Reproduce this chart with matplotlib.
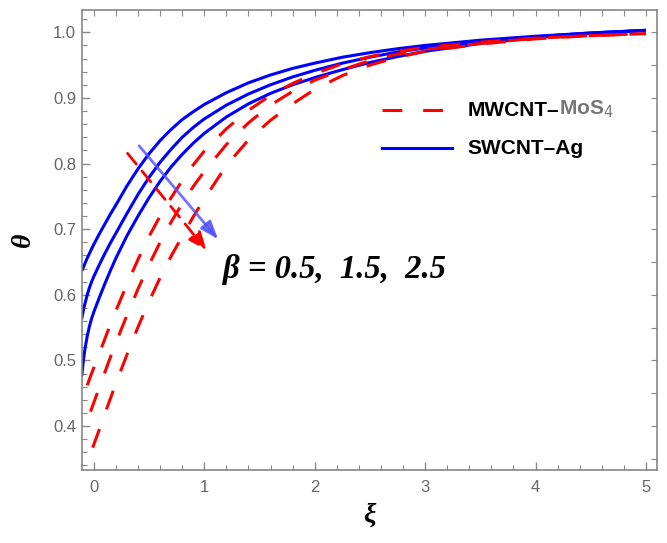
import matplotlib
matplotlib.use("Agg")
import matplotlib.pyplot as plt
from matplotlib.ticker import MultipleLocator

# Temperature profiles theta(xi) for beta = 0.5, 1.5, 2.5
xi_ag = [-0.11, -0.10, -0.09, -0.08, -0.06, -0.04, -0.02, 0.00, 0.05, 0.10, 0.15, 0.20,
         0.30, 0.40, 0.50, 0.60, 0.70, 0.80, 0.90, 1.00, 1.20, 1.40, 1.60, 1.80,
         2.00, 2.25, 2.50, 2.75, 3.00, 3.50, 4.00, 4.50, 5.00]
theta_ag_b05 = [0.636, 0.640, 0.644, 0.648, 0.656, 0.663, 0.670, 0.677, 0.693, 0.708,
                0.723, 0.737, 0.766, 0.792, 0.815, 0.835, 0.852, 0.867, 0.879, 0.890,
                0.908, 0.923, 0.935, 0.945, 0.953, 0.962, 0.969, 0.975, 0.980, 0.988,
                0.994, 0.999, 1.003]
theta_ag_b15 = [0.563, 0.572, 0.580, 0.587, 0.600, 0.611, 0.620, 0.628, 0.646, 0.663,
                0.679, 0.694, 0.724, 0.753, 0.779, 0.802, 0.822, 0.840, 0.855, 0.868,
                0.889, 0.906, 0.920, 0.932, 0.942, 0.953, 0.962, 0.970, 0.976, 0.986,
                0.993, 0.999, 1.003]
theta_ag_b25 = [0.476, 0.492, 0.506, 0.518, 0.537, 0.552, 0.564, 0.574, 0.596, 0.617,
                0.637, 0.656, 0.690, 0.720, 0.748, 0.773, 0.795, 0.814, 0.831, 0.846,
                0.871, 0.891, 0.907, 0.920, 0.931, 0.943, 0.954, 0.963, 0.971, 0.983,
                0.992, 0.998, 1.003]

xi_mos_b05 = [-0.06, -0.03, 0.00, 0.05, 0.10, 0.15, 0.20, 0.30, 0.40, 0.50, 0.60, 0.70,
              0.80, 0.90, 1.00, 1.20, 1.40, 1.60, 1.80, 2.00, 2.25, 2.50, 2.75, 3.00,
              3.50, 4.00, 4.50, 5.00]
theta_mos_b05 = [0.462, 0.476, 0.489, 0.511, 0.533, 0.555, 0.576, 0.616, 0.654, 0.689,
                 0.720, 0.748, 0.774, 0.798, 0.819, 0.853, 0.881, 0.904, 0.922, 0.937,
                 0.952, 0.963, 0.971, 0.977, 0.985, 0.991, 0.995, 0.998]
xi_mos_b15 = [-0.03, 0.00, 0.05, 0.10, 0.15, 0.20, 0.30, 0.40, 0.50, 0.60, 0.70,
              0.80, 0.90, 1.00, 1.20, 1.40, 1.60, 1.80, 2.00, 2.25, 2.50, 2.75, 3.00,
              3.50, 4.00, 4.50, 5.00]
theta_mos_b15 = [0.422, 0.436, 0.459, 0.482, 0.505, 0.527, 0.569, 0.609, 0.646, 0.680,
                 0.711, 0.739, 0.765, 0.788, 0.829, 0.862, 0.889, 0.910, 0.927, 0.943,
                 0.957, 0.967, 0.974, 0.983, 0.991, 0.995, 0.998]
xi_mos_b25 = [-0.01, 0.00, 0.05, 0.10, 0.15, 0.20, 0.30, 0.40, 0.50, 0.60, 0.70,
              0.80, 0.90, 1.00, 1.20, 1.40, 1.60, 1.80, 2.00, 2.25, 2.50, 2.75, 3.00,
              3.50, 4.00, 4.50, 5.00]
theta_mos_b25 = [0.367, 0.372, 0.395, 0.419, 0.442, 0.465, 0.509, 0.551, 0.590, 0.626,
                 0.659, 0.689, 0.719, 0.746, 0.797, 0.836, 0.866, 0.891, 0.913, 0.934,
                 0.950, 0.962, 0.971, 0.982, 0.990, 0.995, 0.998]

x_ticks = [0, 1, 2, 3, 4, 5]
y_ticks = [0.4, 0.5, 0.6, 0.7, 0.8, 0.9, 1.0]
beta_label = "\u03b2 = 0.5,  1.5,  2.5"

RED = "#ff0000"
BLUE = "#0000ff"
FRAME = "#888888"
TICKTXT = "#666666"

fig = plt.figure(figsize=(6.67, 5.43), dpi=100)
ax = fig.add_axes([0.1225, 0.1344, 0.8625, 0.8472])

lw = 2.2
for th in (theta_ag_b05, theta_ag_b15, theta_ag_b25):
    ax.plot(xi_ag, th, color=BLUE, lw=lw, solid_capstyle="butt",
            solid_joinstyle="round", zorder=2)

for xs, th in ((xi_mos_b05, theta_mos_b05), (xi_mos_b15, theta_mos_b15),
               (xi_mos_b25, theta_mos_b25)):
    ax.plot(xs, th, color=RED, lw=lw, dashes=(6.5, 6.8), dash_capstyle="butt", zorder=3)

ax.set_xlim(-0.11, 5.10)
ax.set_ylim(0.333, 1.034)

# Direction arrows for increasing beta
ax.annotate("", xy=(1.02, 0.668), xytext=(0.305, 0.8156),
            arrowprops=dict(arrowstyle="-|>,head_length=1.1,head_width=0.45",
                            color=RED, lw=2.0, linestyle=(0, (5, 3.2)),
                            shrinkA=0, shrinkB=0), zorder=4)
ax.annotate("", xy=(1.126, 0.6845), xytext=(0.41, 0.827),
            arrowprops=dict(arrowstyle="-|>,head_length=1.1,head_width=0.4",
                            color="#5050ff", alpha=0.8, lw=2.0,
                            shrinkA=0, shrinkB=0), zorder=4)

ax.text(2.18, 0.639, beta_label, fontsize=23.5, fontweight="bold", fontstyle="italic",
        family="Liberation Serif", ha="center", va="center", color="black")

# Legend
trans = ax.transAxes
ax.plot([0.522, 0.631], [0.7826, 0.7826], transform=trans, color=RED, lw=lw,
        dashes=(6.5, 6.8), dash_capstyle="butt")
ax.plot([0.522, 0.644], [0.700, 0.700], transform=trans, color=BLUE, lw=lw)
t1 = ax.text(0.670, 0.7826, "MWCNT\u2013", transform=trans, fontsize=15,
             fontweight="bold", family="Liberation Sans", va="center", ha="left")
ax.annotate("MoS$_4$", xy=(1.0, 0.0), xycoords=t1, fontsize=15, fontweight="bold",
            family="Liberation Sans", color="#777777", va="bottom", ha="left")
ax.text(0.670, 0.700, "SWCNT\u2013Ag", transform=trans, fontsize=15,
        fontweight="bold", family="Liberation Sans", va="center", ha="left")

# Frame and ticks
for s in ax.spines.values():
    s.set_color(FRAME)
    s.set_linewidth(1.2)

ax.set_xticks(x_ticks)
ax.set_yticks(y_ticks)
ax.xaxis.set_minor_locator(MultipleLocator(0.2))
ax.yaxis.set_minor_locator(MultipleLocator(0.02))
ax.tick_params(axis="both", which="major", direction="in", length=6, width=1,
               color=FRAME, labelcolor=TICKTXT, labelsize=12)
ax.tick_params(axis="y", which="major", pad=4)
ax.tick_params(axis="x", which="major", pad=7)
ax.tick_params(axis="both", which="minor", direction="in", length=3.5, width=0.8,
               color=FRAME)
ax.tick_params(top=False, right=False, which="both")
for lab in ax.get_xticklabels() + ax.get_yticklabels():
    lab.set_family("Liberation Sans")

# Unlabelled ticks along the top and right edges
secx = ax.secondary_xaxis("top")
secx.xaxis.set_major_locator(MultipleLocator(0.2))
secx.tick_params(direction="in", length=4, width=0.8, color=FRAME, labeltop=False)
secx.spines["top"].set_visible(False)
secy = ax.secondary_yaxis("right")
secy.yaxis.set_major_locator(MultipleLocator(0.05))
secy.tick_params(direction="in", length=4, width=0.8, color=FRAME, labelright=False)
secy.spines["right"].set_visible(False)

ax.set_xlabel("\u03be", fontsize=20, fontweight="bold", fontstyle="italic",
              family="Liberation Serif", labelpad=6)
ax.set_ylabel("\u03b8", fontsize=20, fontweight="bold", fontstyle="italic",
              family="Liberation Serif", labelpad=12)

fig.savefig("out.png", dpi=100)
